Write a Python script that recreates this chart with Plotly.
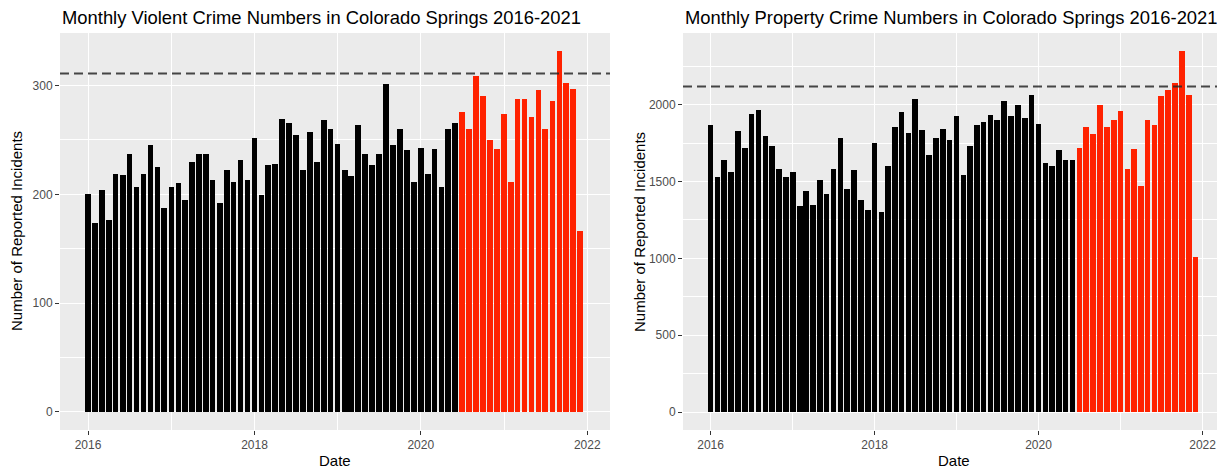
import pandas as pd
import plotly.graph_objects as go

# Months Jan 2016 .. Dec 2021
months = pd.date_range("2016-01-01", "2021-12-01", freq="MS").strftime("%Y-%m-%d").tolist()

violent = [
    200, 174, 204, 176, 219, 218, 237, 207, 219, 245, 225, 187,
    207, 210, 195, 230, 237, 237, 213, 192, 222, 211, 232, 213,
    252, 199, 227, 228, 269, 266, 255, 222, 257, 230, 268, 260,
    246, 222, 217, 264, 237, 227, 237, 301, 245, 260, 241, 211,
    243, 219, 242, 207, 260, 266, 276, 260, 309, 290, 250, 242,
    274, 211, 288, 288, 271, 296, 260, 286, 332, 302, 297, 166,
]
prop = [
    1868, 1527, 1642, 1560, 1831, 1721, 1942, 1965, 1795, 1730, 1583, 1527,
    1560, 1342, 1439, 1350, 1512, 1422, 1583, 1786, 1454, 1577, 1383, 1318,
    1754, 1301, 1600, 1853, 1950, 1819, 2039, 1836, 1674, 1786, 1845, 1771,
    1927, 1542, 1730, 1868, 1885, 1933, 1901, 2024, 1927, 1998, 1916, 2063,
    1877, 1624, 1600, 1707, 1642, 1642, 1721, 1853, 1812, 1998, 1853, 1901,
    1959, 1583, 1715, 1471, 1901, 1868, 2054, 2095, 2144, 2348, 2063, 1012,
]
violent_ref = 311
prop_ref = 2119
split_date = "2020-07-01"

titles = [
    "Monthly Violent Crime Numbers in Colorado Springs 2016-2021",
    "Monthly Property Crime Numbers in Colorado Springs 2016-2021",
]
x_title = "Date"
y_title = "Number of Reported Incidents"
x_tickvals = ["2016-01-01", "2018-01-01", "2020-01-01", "2022-01-01"]
x_ticktext = ["2016", "2018", "2020", "2022"]

BLACK = "#000000"
RED = "#FF2200"
colors = [RED if m >= split_date else BLACK for m in months]
bar_w = 25.2 * 86400000

fig = go.Figure()
fig.add_trace(go.Bar(x=months, y=violent, marker=dict(color=colors, line=dict(width=0)),
                     width=bar_w, xaxis="x", yaxis="y", showlegend=False))
fig.add_trace(go.Bar(x=months, y=prop, marker=dict(color=colors, line=dict(width=0)),
                     width=bar_w, xaxis="x2", yaxis="y2", showlegend=False))

# page body has an 8px margin; compensate
W, H = 1217, 461
ml, mr, mt, mb = 52, 0, 25, 39
pw = W - ml - mr
d1 = [0, 550 / pw]
d2 = [(675 - ml) / pw, 1]

FONT = "Liberation Sans, Arial, sans-serif"
tickfont = dict(family=FONT, size=12, color="#4D4D4D")

def xaxis(domain, anchor):
    return dict(
        domain=domain, anchor=anchor, type="date",
        range=["2015-08-31", "2022-04-11"],
        tickvals=x_tickvals, ticktext=x_ticktext,
        ticks="outside", ticklen=4, tickwidth=1, tickcolor="#333333",
        tickfont=tickfont, showgrid=True, gridcolor="white", gridwidth=1.1,
        minor=dict(dtick="M12", tick0="2016-01-01", showgrid=True, gridcolor="white", gridwidth=0.5, ticks=""),
        zeroline=False, showline=False,
    )

def yaxis(domain_anchor, rng, dtick, minor_dtick):
    return dict(
        anchor=domain_anchor, domain=[0, 1], range=rng, dtick=dtick, tick0=0,
        ticks="outside", ticklen=4, tickwidth=1, tickcolor="#333333",
        tickfont=tickfont, showgrid=True, gridcolor="white", gridwidth=1.1,
        minor=dict(dtick=minor_dtick, tick0=0, showgrid=True, gridcolor="white", gridwidth=0.5, ticks=""),
        zeroline=False, showline=False,
    )

fig.update_layout(
    width=W, height=H,
    margin=dict(l=ml, r=mr, t=mt, b=mb),
    paper_bgcolor="white", plot_bgcolor="#EBEBEB",
    bargap=0,
    xaxis=xaxis(d1, "y"), yaxis=yaxis("x", [-16.6, 348.3], 100, 50),
    xaxis2=xaxis(d2, "y2"), yaxis2=yaxis("x2", [-117, 2467], 500, 250),
    font=dict(family=FONT),
)

fig.add_shape(type="line", xref="x domain", yref="y", x0=0, x1=1, y0=violent_ref, y1=violent_ref,
              line=dict(color="rgba(40,40,40,0.85)", width=2, dash="9px,5px"))
fig.add_shape(type="line", xref="x2 domain", yref="y2", x0=0, x1=1, y0=prop_ref, y1=prop_ref,
              line=dict(color="rgba(40,40,40,0.85)", width=2, dash="9px,5px"))

ann = []
titlefont = dict(family=FONT, size=18.4, color="black")
axfont = dict(family=FONT, size=15, color="black")
for i, dom in enumerate([d1, d2]):
    ann.append(dict(text=titles[i], xref="paper", yref="paper", x=dom[0], y=1,
                    xanchor="left", yanchor="middle", yshift=16, showarrow=False, font=titlefont))
    ann.append(dict(text=x_title, xref="paper", yref="paper", x=(dom[0] + dom[1]) / 2, y=0,
                    xanchor="center", yanchor="top", yshift=-20, showarrow=False, font=axfont))
    ann.append(dict(text=y_title, xref="paper", yref="paper", x=dom[0], y=0.5,
                    xanchor="right", yanchor="middle", xshift=-33, textangle=-90,
                    showarrow=False, font=axfont))
fig.update_layout(annotations=ann)

fig.write_html("out.html")
